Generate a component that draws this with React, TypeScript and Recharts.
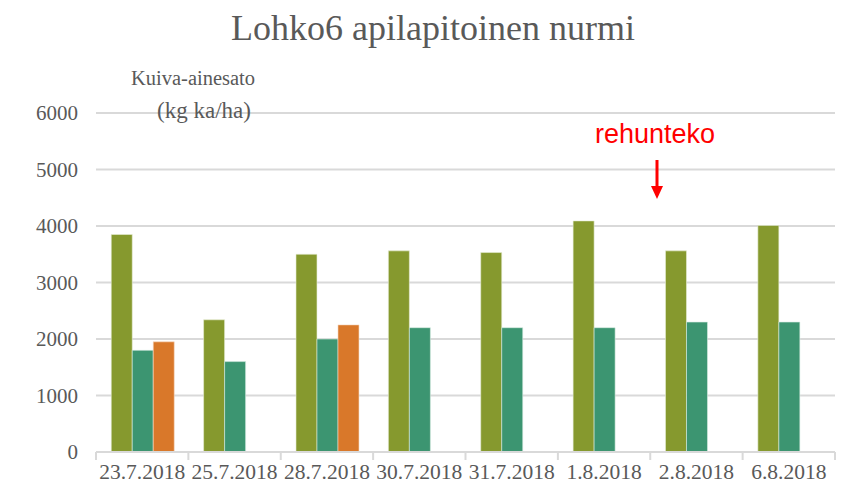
import React from "react";
import { BarChart, Bar, XAxis, YAxis, CartesianGrid } from "recharts";

const dates = ["23.7.2018", "25.7.2018", "28.7.2018", "30.7.2018", "31.7.2018", "1.8.2018", "2.8.2018", "6.8.2018"];
const sarja1 = [3850, 2340, 3500, 3560, 3530, 4090, 3560, 4010];
const sarja2 = [1800, 1600, 2000, 2200, 2200, 2200, 2300, 2300];
const sarja3 = [1950, null, 2250, null, null, null, null, null];
const yTicks = [0, 1000, 2000, 3000, 4000, 5000, 6000];

const data = dates.map((d, i) => ({ name: d, a: sarja1[i], b: sarja2[i], c: sarja3[i] }));

const W = 856;
const H = 493;
const LEFT = 96;
const RIGHT = 835;
const STEP = (RIGHT - LEFT) / dates.length;
const serif = "Liberation Serif, DejaVu Serif, serif";
const grey = "#595959";

const DateTick = (props: any) => {
  const { x, y, payload, index } = props;
  return (
    <g>
      <line x1={x - STEP / 2} x2={x - STEP / 2} y1={y - 8} y2={y} stroke="#d9d9d9" strokeWidth={2} />
      {index === dates.length - 1 && (
        <line x1={x + STEP / 2} x2={x + STEP / 2} y1={y - 8} y2={y} stroke="#d9d9d9" strokeWidth={2} />
      )}
      <text x={x} y={y + 19} textAnchor="middle" fill={grey} fontFamily={serif} fontSize={21.5}>
        {payload.value}
      </text>
    </g>
  );
};

export default function App() {
  return (
    <div style={{ position: "absolute", left: 0, top: 0, width: W, height: H, background: "#fff" }}>
      <BarChart
        width={W}
        height={H}
        data={data}
        margin={{ top: 113, right: W - RIGHT, left: 0, bottom: 11 }}
        barCategoryGap="16.5%"
        barGap={0}
      >
        <CartesianGrid vertical={false} stroke="#d9d9d9" strokeWidth={2} />
        <XAxis
          dataKey="name"
          height={30}
          axisLine={{ stroke: "#d9d9d9", strokeWidth: 2 }}
          tickLine={false}
          tick={<DateTick />}
          interval={0}
        />
        <YAxis
          width={LEFT}
          domain={[0, 6000]}
          ticks={yTicks}
          axisLine={false}
          tickLine={false}
          tickSize={0}
          tickMargin={18}
          tick={{ fill: grey, fontFamily: serif, fontSize: 21 }}
        />
        <Bar dataKey="a" fill="#86992e" stroke="#e8eed8" strokeWidth={0.6} isAnimationActive={false} />
        <Bar dataKey="b" fill="#3c9571" stroke="#d8ece2" strokeWidth={0.6} isAnimationActive={false} />
        <Bar dataKey="c" fill="#d9782a" stroke="#f6dcc6" strokeWidth={0.6} isAnimationActive={false} />
      </BarChart>
      <svg width={W} height={H} style={{ position: "absolute", left: 0, top: 0, pointerEvents: "none" }}>
        <text x={433} y={40} textAnchor="middle" fill={grey} fontFamily={serif} fontSize={36}>
          Lohko6 apilapitoinen nurmi
        </text>
        <text x={193} y={85} textAnchor="middle" fill={grey} fontFamily={serif} fontSize={20.5}>
          Kuiva-ainesato
        </text>
        <text x={204} y={118} textAnchor="middle" fill={grey} fontFamily={serif} fontSize={23}>
          (kg ka/ha)
        </text>
        <text x={655} y={143} textAnchor="middle" fill="#ff0000" fontFamily="Liberation Sans, Arial, sans-serif" fontSize={27}>
          rehunteko
        </text>
        <line x1={657} x2={657} y1={160} y2={188} stroke="#ff0000" strokeWidth={3} />
        <polygon points="651,186 663,186 657,199" fill="#ff0000" />
      </svg>
    </div>
  );
}
